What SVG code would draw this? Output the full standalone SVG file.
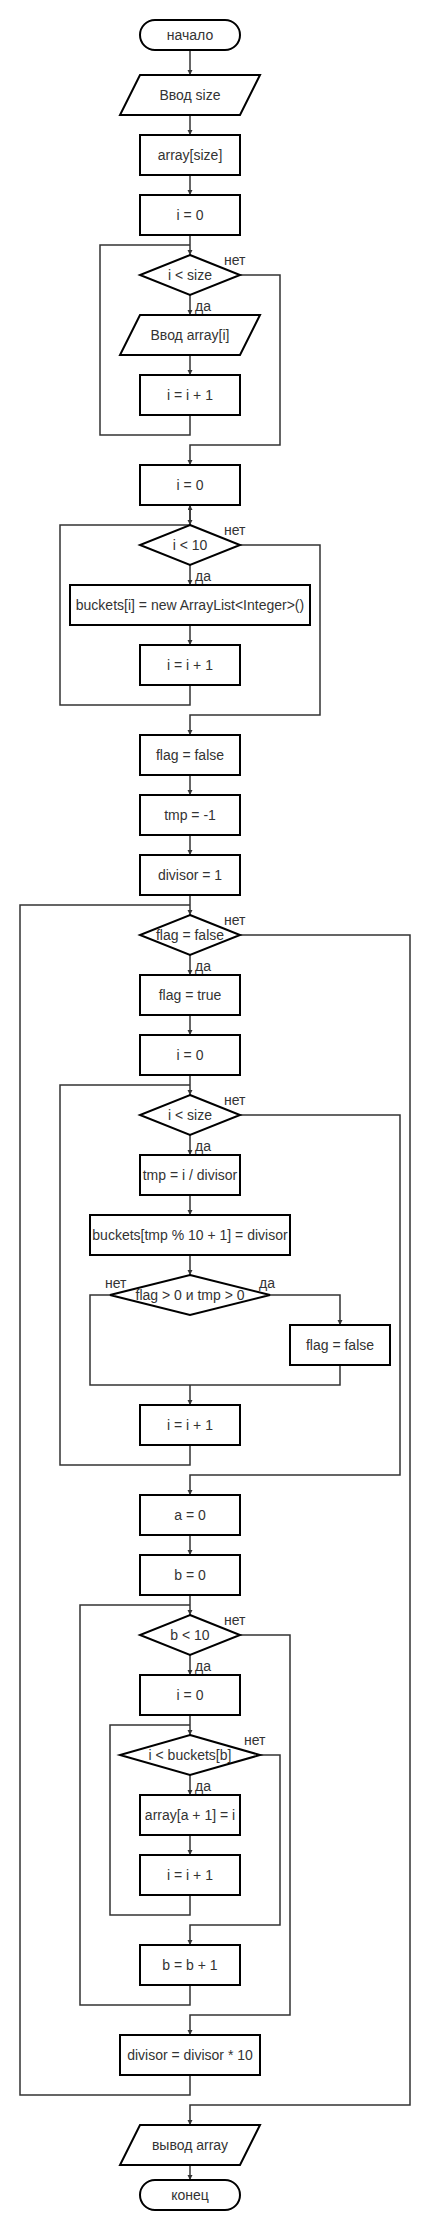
<svg xmlns="http://www.w3.org/2000/svg" width="430" height="2230" viewBox="0 0 430 2230">
<defs>
<marker id="arr" markerUnits="userSpaceOnUse" markerWidth="6" markerHeight="6" refX="5" refY="2.5" orient="auto">
<path d="M0,0 L5,2.5 L0,5 z" fill="#333"/>
</marker>
<style>
.n{fill:#fff;stroke:#000;stroke-width:2}
.t{font-family:"Liberation Sans",Arial,sans-serif;font-size:14px;fill:#333;text-anchor:middle}
.l{font-family:"Liberation Sans",Arial,sans-serif;font-size:14px;fill:#333}
.c{fill:none;stroke:#333;stroke-width:1.5}
.a{marker-end:url(#arr)}
</style>
</defs>
<rect width="430" height="2230" fill="#fff"/>
<g id="connectors">
<path class="c a" d="M190,50V75"/>
<path class="c a" d="M190,115V135"/>
<path class="c a" d="M190,175V195"/>
<path class="c a" d="M190,235V255"/>
<path class="c" d="M190,415V435H100V245H190"/>
<path class="c a" d="M190,295V315"/>
<path class="c a" d="M190,355V375"/>
<path class="c a" d="M240,275H280V445H190V465"/>
<path class="c a" d="M190,505V525"/>
<path class="c a" d="M190,525V505"/>
<path class="c" d="M190,685V705H60V525H190"/>
<path class="c a" d="M190,565V585"/>
<path class="c a" d="M190,625V645"/>
<path class="c a" d="M240,545H320V715H190V735"/>
<path class="c a" d="M190,775V795"/>
<path class="c a" d="M190,835V855"/>
<path class="c a" d="M190,895V915"/>
<path class="c" d="M190,2075V2095H20V905H190"/>
<path class="c a" d="M190,955V975"/>
<path class="c a" d="M190,1015V1035"/>
<path class="c a" d="M190,1075V1095"/>
<path class="c" d="M190,1445V1465H60V1085H190"/>
<path class="c a" d="M190,1135V1155"/>
<path class="c a" d="M190,1195V1215"/>
<path class="c a" d="M190,1255V1275"/>
<path class="c a" d="M270,1295H340V1325"/>
<path class="c" d="M340,1365V1385H190"/>
<path class="c" d="M110,1295H90V1385H190"/>
<path class="c a" d="M190,1385V1405"/>
<path class="c a" d="M240,1115H400V1475H190V1495"/>
<path class="c a" d="M190,1535V1555"/>
<path class="c a" d="M190,1595V1615"/>
<path class="c" d="M190,1985V2005H80V1605H190"/>
<path class="c a" d="M190,1655V1675"/>
<path class="c a" d="M190,1715V1735"/>
<path class="c" d="M190,1895V1915H110V1725H190"/>
<path class="c a" d="M190,1775V1795"/>
<path class="c a" d="M190,1835V1855"/>
<path class="c a" d="M260,1755H280V1925H190V1945"/>
<path class="c a" d="M240,1635H290V2015H190V2035"/>
<path class="c a" d="M240,935H410V2105H190V2125"/>
<path class="c a" d="M190,2165V2180"/>
<text class="l" x="224" y="265">нет</text>
<text class="l" x="195" y="311">да</text>
<text class="l" x="224" y="535">нет</text>
<text class="l" x="195" y="581">да</text>
<text class="l" x="224" y="925">нет</text>
<text class="l" x="195" y="971">да</text>
<text class="l" x="224" y="1105">нет</text>
<text class="l" x="195" y="1151">да</text>
<text class="l" x="105" y="1288">нет</text>
<text class="l" x="259" y="1288">да</text>
<text class="l" x="224" y="1625">нет</text>
<text class="l" x="195" y="1671">да</text>
<text class="l" x="244" y="1745">нет</text>
<text class="l" x="195" y="1791">да</text>
</g>
<g id="start"><rect class="n" x="140" y="20" width="100" height="30" rx="15"/><text class="t" x="190" y="40">начало</text></g>
<g id="in_size"><path class="n" d="M140,75H260L240,115H120Z"/><text class="t" x="190" y="100">Ввод size</text></g>
<g id="array_size"><rect class="n" x="140" y="135" width="100" height="40"/><text class="t" x="190" y="160">array[size]</text></g>
<g id="i0a"><rect class="n" x="140" y="195" width="100" height="40"/><text class="t" x="190" y="220">i = 0</text></g>
<g id="cond1"><path class="n" d="M190,255L240,275L190,295L140,275Z"/><text class="t" x="190" y="280">i &lt; size</text></g>
<g id="in_arr"><path class="n" d="M140,315H260L240,355H120Z"/><text class="t" x="190" y="340">Ввод array[i]</text></g>
<g id="inc1"><rect class="n" x="140" y="375" width="100" height="40"/><text class="t" x="190" y="400">i = i + 1</text></g>
<g id="i0b"><rect class="n" x="140" y="465" width="100" height="40"/><text class="t" x="190" y="490">i = 0</text></g>
<g id="cond2"><path class="n" d="M190,525L240,545L190,565L140,545Z"/><text class="t" x="190" y="550">i &lt; 10</text></g>
<g id="buckets_new"><rect class="n" x="70" y="585" width="240" height="40"/><text class="t" x="190" y="610">buckets[i] = new ArrayList&lt;Integer&gt;()</text></g>
<g id="inc2"><rect class="n" x="140" y="645" width="100" height="40"/><text class="t" x="190" y="670">i = i + 1</text></g>
<g id="flag_false"><rect class="n" x="140" y="735" width="100" height="40"/><text class="t" x="190" y="760">flag = false</text></g>
<g id="tmp"><rect class="n" x="140" y="795" width="100" height="40"/><text class="t" x="190" y="820">tmp = -1</text></g>
<g id="divisor"><rect class="n" x="140" y="855" width="100" height="40"/><text class="t" x="190" y="880">divisor = 1</text></g>
<g id="cond3"><path class="n" d="M190,915L240,935L190,955L140,935Z"/><text class="t" x="190" y="940">flag = false</text></g>
<g id="flag_true"><rect class="n" x="140" y="975" width="100" height="40"/><text class="t" x="190" y="1000">flag = true</text></g>
<g id="i0c"><rect class="n" x="140" y="1035" width="100" height="40"/><text class="t" x="190" y="1060">i = 0</text></g>
<g id="cond4"><path class="n" d="M190,1095L240,1115L190,1135L140,1115Z"/><text class="t" x="190" y="1120">i &lt; size</text></g>
<g id="tmp_div"><rect class="n" x="140" y="1155" width="100" height="40"/><text class="t" x="190" y="1180">tmp = i / divisor</text></g>
<g id="buckets_set"><rect class="n" x="90" y="1215" width="200" height="40"/><text class="t" x="190" y="1240">buckets[tmp % 10 + 1] = divisor</text></g>
<g id="cond5"><path class="n" d="M190,1275L270,1295L190,1315L110,1295Z"/><text class="t" x="190" y="1300">flag &gt; 0 и tmp &gt; 0</text></g>
<g id="flag_false2"><rect class="n" x="290" y="1325" width="100" height="40"/><text class="t" x="340" y="1350">flag = false</text></g>
<g id="inc3"><rect class="n" x="140" y="1405" width="100" height="40"/><text class="t" x="190" y="1430">i = i + 1</text></g>
<g id="a0"><rect class="n" x="140" y="1495" width="100" height="40"/><text class="t" x="190" y="1520">a = 0</text></g>
<g id="b0"><rect class="n" x="140" y="1555" width="100" height="40"/><text class="t" x="190" y="1580">b = 0</text></g>
<g id="cond6"><path class="n" d="M190,1615L240,1635L190,1655L140,1635Z"/><text class="t" x="190" y="1640">b &lt; 10</text></g>
<g id="i0d"><rect class="n" x="140" y="1675" width="100" height="40"/><text class="t" x="190" y="1700">i = 0</text></g>
<g id="cond7"><path class="n" d="M190,1735L260,1755L190,1775L120,1755Z"/><text class="t" x="190" y="1760">i &lt; buckets[b]</text></g>
<g id="arr_set"><rect class="n" x="140" y="1795" width="100" height="40"/><text class="t" x="190" y="1820">array[a + 1] = i</text></g>
<g id="inc4"><rect class="n" x="140" y="1855" width="100" height="40"/><text class="t" x="190" y="1880">i = i + 1</text></g>
<g id="incb"><rect class="n" x="140" y="1945" width="100" height="40"/><text class="t" x="190" y="1970">b = b + 1</text></g>
<g id="div10"><rect class="n" x="120" y="2035" width="140" height="40"/><text class="t" x="190" y="2060">divisor = divisor * 10</text></g>
<g id="out"><path class="n" d="M140,2125H260L240,2165H120Z"/><text class="t" x="190" y="2150">вывод array</text></g>
<g id="end"><rect class="n" x="140" y="2180" width="100" height="30" rx="15"/><text class="t" x="190" y="2200">конец</text></g>
</svg>
